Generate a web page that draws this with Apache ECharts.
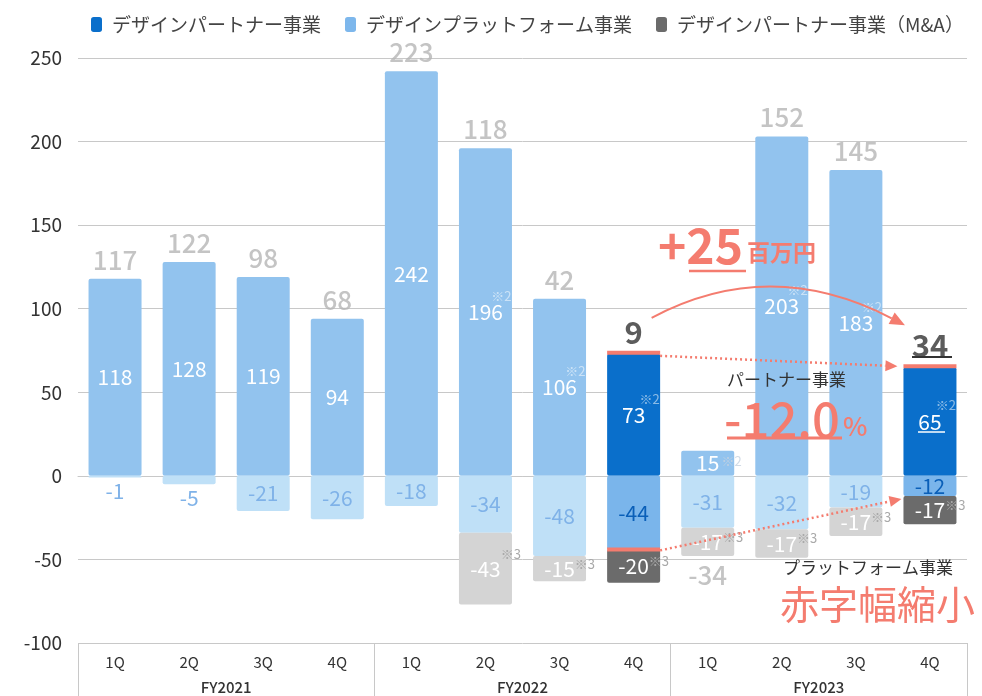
<!DOCTYPE html>
<html>
<head>
<meta charset="utf-8">
<script src="https://cdn.jsdelivr.net/npm/echarts@6/dist/echarts.min.js"></script>
<style>
  html, body { margin: 0; padding: 0; background: #fff; }
  #chart { width: 982px; height: 696px; }
</style>
</head>
<body>
<div id="chart"></div>
<script>
// 四半期と年度
const quarters = ['1Q', '2Q', '3Q', '4Q', '1Q', '2Q', '3Q', '4Q', '1Q', '2Q', '3Q', '4Q']
const fiscalYears = ['FY2021', 'FY2022', 'FY2023']

// 事業別の値（百万円）
const partnerValues = [118, 128, 119, 94, 242, 196, 106, 73, 15, 203, 183, 65]
const platformValues = [-1, -5, -21, -26, -18, -34, -48, -44, -31, -32, -19, -12]
const maValues = [null, null, null, null, null, -43, -15, -20, -17, -17, -17, -17]
const totalValues = [117, 122, 98, 68, 223, 118, 42, 9, -34, 152, 145, 34]

// 注記
const partnerNotes = ['', '', '', '', '', '※2', '※2', '※2', '※2', '※2', '※2', '※2']
const maNotes = ['', '', '', '', '', '※3', '※3', '※3', '※3', '※3', '※3', '※3']

// 強調する四半期（FY2022 4Q, FY2023 4Q）
const highlightIdx = [7, 11]

const FONT = '"Noto Sans CJK JP", sans-serif'
const RED = '#F47C6F'
const isHi = i => highlightIdx.includes(i)

const chart = echarts.init(document.getElementById('chart'))

// データ項目（強調かどうかで色を変える）
const partnerData = partnerValues.map((v, i) => ({
  value: v,
  itemStyle: { color: isHi(i) ? '#0A6FCB' : '#92C3EE' }
}))
const platformData = platformValues.map((v, i) => ({
  value: v,
  itemStyle: { color: isHi(i) ? '#7AB5EB' : '#BFE0F7' },
  label: {
    color: isHi(i) ? '#0A5FB8' : '#7FB2E8',
    position: Math.abs(v) < 10 ? 'bottom' : 'inside',
    distance: 3
  }
}))
const maData = maValues.map((v, i) => ({
  value: v,
  itemStyle: { color: isHi(i) ? '#6B6B6B' : '#D4D4D4' }
}))
const totalData = totalValues.map((t, i) => ({
  value: [i, t >= 0 ? partnerValues[i] : platformValues[i] + (maValues[i] || 0)],
  label: {
    position: t >= 0 ? 'top' : 'bottom',
    color: isHi(i) ? '#333' : '#B5B5B5',
    fontSize: isHi(i) ? 31 : 26,
    fontWeight: isHi(i) ? 'bold' : 500
  }
}))
// ※2 注記はバー中央の数値の右上に置く
const partnerNoteData = partnerValues
  .map((v, i) => ({
    value: [i, v / 2],
    name: partnerNotes[i],
    label: {
      offset: i === 8 ? [34, -2] : [26, -16],
      color: i === 8 ? '#C6D2E0' : 'rgba(255,255,255,0.65)'
    }
  }))
  .filter(d => d.name)

const maRich = {
  v: { fontSize: 21, fontFamily: FONT, lineHeight: 44 },
  pad: { width: 20 },
  nt: { fontSize: 13, fontFamily: FONT, color: '#A9A9A9', width: 20, lineHeight: 14, padding: [0, 0, 30, 0] },
  nm: { fontSize: 13, fontFamily: FONT, color: '#A9A9A9', width: 20, lineHeight: 14, padding: [0, 0, 10, 0] }
}

const option = {
  animation: false,
  textStyle: { fontFamily: FONT },
  legend: {
    data: ['デザインパートナー事業', 'デザインプラットフォーム事業', 'デザインパートナー事業（M&A）'],
    left: 86,
    top: 10,
    itemWidth: 11,
    itemHeight: 15,
    itemGap: 24,
    textStyle: { fontSize: 19, color: '#444', fontFamily: FONT, padding: [0, 0, 0, 5] }
  },
  grid: { left: 78, right: 15, top: 58, bottom: 53 },
  xAxis: [
    {
      type: 'category',
      data: quarters,
      position: 'bottom',
      axisLine: { lineStyle: { color: '#C8C8C8' } },
      axisTick: { show: false },
      axisLabel: { fontSize: 15, color: '#333', margin: 12 }
    },
    {
      type: 'category',
      data: fiscalYears,
      position: 'bottom',
      axisLine: { show: false },
      axisTick: { show: true, length: 55, lineStyle: { color: '#C8C8C8' } },
      axisLabel: { fontSize: 15, color: '#333', margin: 37, fontWeight: 500 }
    }
  ],
  yAxis: {
    type: 'value',
    min: -100,
    max: 250,
    interval: 50,
    axisLine: { show: false },
    axisTick: { show: false },
    axisLabel: { fontSize: 19, color: '#333', margin: 16 },
    splitLine: { lineStyle: { color: '#C8C8C8' } }
  },
  series: [
    {
      name: 'デザインパートナー事業',
      type: 'bar',
      stack: 'q',
      barWidth: 53,
      color: '#0A6FCB',
      itemStyle: { borderRadius: 2 },
      data: partnerData,
      label: { show: true, position: 'inside', color: '#fff', fontSize: 21, fontFamily: FONT }
    },
    {
      name: 'デザインプラットフォーム事業',
      type: 'bar',
      stack: 'q',
      barWidth: 53,
      color: '#7DB7EC',
      itemStyle: { borderRadius: 2 },
      data: platformData,
      label: { show: true, fontSize: 21, fontFamily: FONT }
    },
    {
      name: 'デザインパートナー事業（M&A）',
      type: 'bar',
      stack: 'q',
      barWidth: 53,
      color: '#6B6B6B',
      itemStyle: { borderRadius: 2 },
      data: maData,
      label: {
        show: true,
        position: 'inside',
        color: '#fff',
        overflow: 'none',
        width: 120,
        formatter: p => {
          const st = p.dataIndex === 5 ? 'nt' : 'nm'
          return `{pad|}{v|${p.value}}{${st}|${maNotes[p.dataIndex]}}`
        },
        rich: maRich
      }
    },
    {
      name: 'note',
      type: 'scatter',
      symbolSize: 0,
      silent: true,
      z: 10,
      data: partnerNoteData,
      label: {
        show: true,
        position: 'inside',
        align: 'right',
        verticalAlign: 'middle',
        fontSize: 13,
        fontFamily: FONT,
        formatter: p => p.name
      }
    },
    {
      name: 'total',
      type: 'scatter',
      symbolSize: 0,
      silent: true,
      z: 10,
      data: totalData,
      label: {
        show: true,
        distance: 6,
        fontFamily: FONT,
        formatter: p => totalValues[p.dataIndex]
      }
    }
  ]
}

chart.setOption(option)

// 注釈（矢印・文字）をデータ座標から配置
const px = (i, v) => chart.convertToPixel({ xAxisIndex: 0, yAxisIndex: 0 }, [i, v])
const half = 26.5

function arrow(from, tip, len, w, color) {
  const dx = tip[0] - from[0], dy = tip[1] - from[1]
  const d = Math.sqrt(dx * dx + dy * dy)
  const ux = dx / d, uy = dy / d
  const bx = tip[0] - ux * len, by = tip[1] - uy * len
  return {
    base: [bx, by],
    el: {
      type: 'polygon',
      shape: { points: [tip, [bx - uy * w / 2, by + ux * w / 2], [bx + uy * w / 2, by - ux * w / 2]] },
      style: { fill: color }
    }
  }
}

const a = px(7, partnerValues[7])
const b = px(7, platformValues[7])
const c = px(11, partnerValues[11])
const d = px(11, platformValues[11])

const g = []
// 赤いライン
g.push({ type: 'rect', shape: { x: a[0] - half, y: a[1] - 3, width: 53, height: 4 }, style: { fill: RED }, z: 20 })
g.push({ type: 'rect', shape: { x: b[0] - half, y: b[1] - 2, width: 53, height: 4 }, style: { fill: RED }, z: 20 })
g.push({ type: 'rect', shape: { x: c[0] - half, y: c[1] - 3, width: 53, height: 4 }, style: { fill: RED }, z: 20 })

// 点線矢印
const dot1Start = [a[0] + half, a[1] + 2]
const dot1Tip = [c[0] - half - 6, c[1] - 1]
const h1 = arrow(dot1Start, dot1Tip, 12, 11, RED)
g.push({ type: 'line', shape: { x1: dot1Start[0], y1: dot1Start[1], x2: h1.base[0], y2: h1.base[1] }, style: { stroke: RED, lineWidth: 2.5, lineDash: [2, 3] }, z: 20 })
g.push(Object.assign(h1.el, { z: 20 }))

const dot2Start = [b[0] + half, b[1] + 1]
const dot2Tip = [d[0] - half - 2, d[1] + 3]
const h2 = arrow(dot2Start, dot2Tip, 12, 11, RED)
g.push({ type: 'line', shape: { x1: dot2Start[0], y1: dot2Start[1], x2: h2.base[0], y2: h2.base[1] }, style: { stroke: RED, lineWidth: 2.5, lineDash: [2, 3] }, z: 20 })
g.push(Object.assign(h2.el, { z: 20 }))

// 曲線矢印
const cStart = [a[0] + 18, a[1] - 36]
const cTip = [c[0] - 25, c[1] - 42]
const cCtrl = [770, 255]
const h3 = arrow(cCtrl, cTip, 15, 13, RED)
g.push({ type: 'bezierCurve', shape: { x1: cStart[0], y1: cStart[1], cpx1: cCtrl[0], cpy1: cCtrl[1], x2: h3.base[0], y2: h3.base[1] }, style: { stroke: RED, lineWidth: 2, fill: null }, z: 20 })
g.push(Object.assign(h3.el, { z: 20 }))

// テキスト注釈
const txt = (x, y, text, font, fill) => ({
  type: 'text', z: 30,
  style: { x: x, y: y, text: text, font: font, fill: fill, textAlign: 'left', verticalAlign: 'middle' }
})
g.push(txt(658, 246, '+25', 'bold 48px ' + FONT, RED))
g.push(txt(747, 252, '百万円', 'bold 23px ' + FONT, RED))
g.push({ type: 'line', shape: { x1: 689, y1: 271, x2: 746, y2: 271 }, style: { stroke: RED, lineWidth: 2.5 }, z: 30 })
g.push(txt(727, 380, 'パートナー事業', '17px ' + FONT, '#333'))
g.push(txt(724, 419, '-12.0', '500 49px ' + FONT, RED))
g.push(txt(843, 426, '%', '500 26px ' + FONT, RED))
g.push({ type: 'line', shape: { x1: 727, y1: 438, x2: 842, y2: 438 }, style: { stroke: RED, lineWidth: 3 }, z: 30 })
g.push(txt(783, 568, 'プラットフォーム事業', '17px ' + FONT, '#333'))
g.push(txt(780, 604, '赤字幅縮小', '39px ' + FONT, RED))
// 下線（34, 65）
g.push({ type: 'line', shape: { x1: 912, y1: 357, x2: 952, y2: 357 }, style: { stroke: '#333', lineWidth: 2 }, z: 30 })
g.push({ type: 'line', shape: { x1: 918, y1: 432, x2: 945, y2: 432 }, style: { stroke: '#fff', lineWidth: 1.5 }, z: 30 })

chart.setOption({ graphic: g })
</script>
</body>
</html>
